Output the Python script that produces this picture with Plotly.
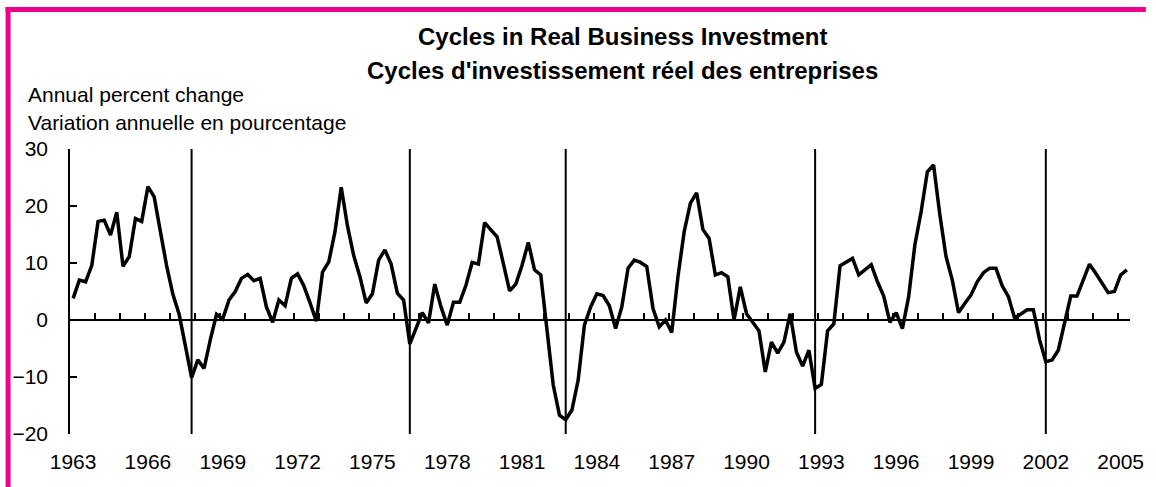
import plotly.graph_objects as go

# ---------------- data ----------------
start_year = 1963
investment_growth = [
    3.8, 7.0, 6.7, 9.6, 17.3, 17.5, 14.9, 18.9, 9.4, 11.1, 17.8, 17.3, 23.4, 21.6,
    15.5, 9.5, 4.5, 1.0, -4.5, -10.1,
    -7.0, -8.5, -3.5, 1.0, 0.2,
    3.5, 5.0, 7.3, 8.0, 6.9, 7.3, 2.3, -0.4, 3.5, 2.5, 7.3, 8.1, 6.0, 3.0, -0.2,
    8.4, 10.2, 15.5, 23.3,
    16.5, 11.3, 7.6, 3.0, 4.6, 10.5, 12.3, 9.8, 4.7, 3.5, -4.2, -1.5, 1.3, -0.5, 6.3, 2.3,
    -0.9, 3.1, 3.1, 6.1, 10.1, 9.8, 17.1, 15.8, 14.6, 9.9, 5.1, 6.3, 9.6, 13.6, 8.8, 7.9,
    -2.0, -11.4, -16.7, -17.5, -15.8, -10.5, -0.9, 2.3, 4.6, 4.3, 2.5,
    -1.5, 2.3, 9.1, 10.5, 10.1, 9.4, 2.0, -1.2, 0.0, -2.2, 7.6, 15.5, 20.5,
    22.3, 15.9, 14.3, 7.9, 8.3, 7.6, 0.0, 5.8, 1.1, -0.5, -1.9,
    -9.1, -3.9, -5.8, -3.9, 1.1, -5.6, -8.1, -5.3, -12.0, -11.3, -1.9, -0.7,
    9.5, 10.1, 10.8, 7.9, 8.8, 9.7, 6.7, 4.2, -0.4,
    1.3, -1.5, 4.1, 13.2, 19.0, 26.0, 27.2, 18.5, 11.1,
    7.0, 1.3, 2.9, 4.4, 6.7, 8.3, 9.1, 9.1, 6.0, 4.1, 0.3, 1.0, 1.8, 1.8, -3.5,
    -7.3, -7.0, -5.3, -0.5, 4.2, 4.2, 7.0, 9.8, 8.2, 6.5, 4.8, 5.0, 7.9, 8.8,
]
quarters = [f"{start_year + k // 4}Q{k % 4 + 1}" for k in range(len(investment_growth))]
cycle_troughs = ["1967Q4", "1976Q3", "1982Q4", "1992Q4", "2002Q1"]
tick_labels = [str(y) for y in range(1963, 2006, 3)]
y_ticks = [-20, -10, 0, 10, 20, 30]

title_en = "Cycles in Real Business Investment"
title_fr = "Cycles d'investissement réel des entreprises"
unit_en = "Annual percent change"
unit_fr = "Variation annuelle en pourcentage"

# ---------------- layout geometry ----------------
W, H = 1156, 487
L, R, T, B = 70, 1140, 149, 434
FONT = "Liberation Sans, Arial, sans-serif"
PINK = "#EC008C"

def px_x(p):
    return (p - L) / (R - L)

def px_y(p):
    return (B - p) / (B - T)

n = len(investment_growth)
xidx = list(range(n))
ymin, ymax = min(y_ticks), max(y_ticks)

fig = go.Figure()

# cycle marker lines
vx, vy = [], []
for q in cycle_troughs:
    i = quarters.index(q)
    vx += [i, i, None]
    vy += [ymin, ymax, None]
fig.add_trace(go.Scatter(x=vx, y=vy, mode="lines", xaxis="x2", yaxis="y",
                         line=dict(color="black", width=2), hoverinfo="skip",
                         showlegend=False))

fig.add_trace(go.Scatter(x=xidx, y=investment_growth, mode="lines",
                         line=dict(color="black", width=3.5),
                         text=quarters, showlegend=False))

label_idx = [quarters.index(f"{y}Q1") for y in tick_labels]
xr = [-0.5, n - 0.5]

fig.update_layout(
    width=W, height=H,
    margin=dict(l=L, r=W - R, t=T, b=H - B, pad=0),
    paper_bgcolor="white", plot_bgcolor="white",
    font=dict(family=FONT, size=21, color="black"),
    showlegend=False,
    xaxis=dict(range=xr, tickvals=label_idx, ticktext=tick_labels,
               ticks="", showline=False, showgrid=False, zeroline=False,
               tickfont=dict(size=21), ticklabelstandoff=13),
    xaxis2=dict(range=xr, overlaying="x", anchor="free",
                position=(0 - ymin) / (ymax - ymin), side="bottom",
                tickvals=[k - 0.5 for k in range(0, n + 1, 4)],
                ticks="inside", ticklen=6, tickwidth=1.5, tickcolor="black",
                showticklabels=False, showline=True, linecolor="black",
                linewidth=1.5, showgrid=False, zeroline=False),
    yaxis=dict(range=[ymin, ymax], tickvals=y_ticks, ticks="inside",
               ticklen=7, tickwidth=1.5, tickcolor="black",
               showline=True, linecolor="black", linewidth=1.5,
               showgrid=False, zeroline=False, tickfont=dict(size=21),
               ticklabelstandoff=16),
)

annotations = [
    dict(text=f"<b>{title_en}</b>", x=px_x(628), y=px_y(36), font=dict(size=24),
         xanchor="center", yanchor="middle"),
    dict(text=f"<b>{title_fr}</b>", x=px_x(628), y=px_y(70), font=dict(size=24),
         xanchor="center", yanchor="middle"),
    dict(text=unit_en, x=px_x(26), y=px_y(94), font=dict(size=21),
         xanchor="left", yanchor="middle"),
    dict(text=unit_fr, x=px_x(26), y=px_y(123), font=dict(size=21),
         xanchor="left", yanchor="middle"),
]
for a in annotations:
    a.update(xref="paper", yref="paper", showarrow=False)
fig.update_layout(annotations=annotations)

# pink frame (top and left)
fig.add_shape(type="rect", xref="paper", yref="paper", layer="above",
              x0=px_x(5), x1=px_x(W), y0=px_y(12), y1=px_y(7),
              fillcolor=PINK, line=dict(width=0))
fig.add_shape(type="rect", xref="paper", yref="paper", layer="above",
              x0=px_x(5), x1=px_x(10), y0=px_y(H), y1=px_y(7),
              fillcolor=PINK, line=dict(width=0))

fig.write_html(
    "out.html",
    config={"displayModeBar": False},
    post_script="document.body.style.margin='0';document.body.style.overflow='hidden';",
)
